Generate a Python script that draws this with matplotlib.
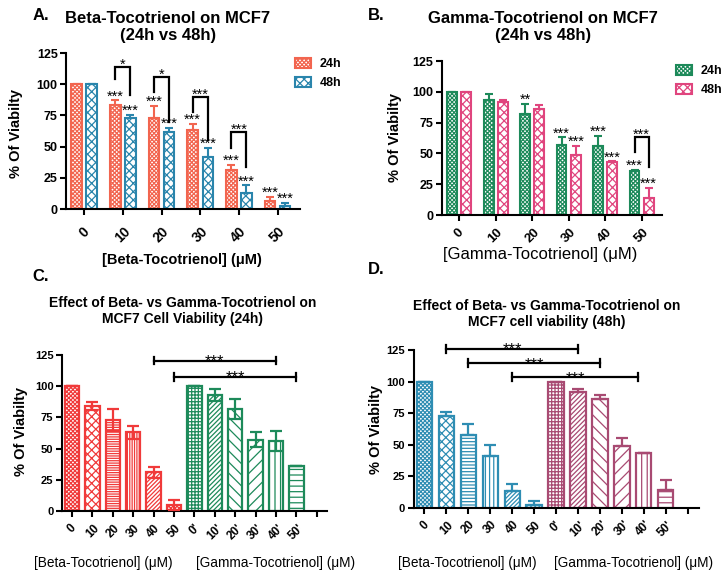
import matplotlib
matplotlib.use("Agg")
import matplotlib.pyplot as plt
from matplotlib import font_manager as fm
from matplotlib.patches import Patch
import numpy as np

# ---------------- data ----------------
doses = ["0", "10", "20", "30", "40", "50"]
doses_prime = ["0'", "10'", "20'", "30'", "40'", "50'"]
series_names = ["24h", "48h"]

# Panel A: Beta-Tocotrienol, 24h vs 48h
a_24 = [100, 83, 73, 63, 31, 6.5]
a_24_err = [0, 4, 9.5, 5, 4.5, 3]
a_48 = [100, 73, 61.5, 42, 13, 2.5]
a_48_err = [0, 2.5, 3.5, 7, 6, 2.5]
a_sig_24 = ["", "***", "***", "***", "***", "***"]
a_sig_48 = ["", "***", "***", "***", "***", "***"]
# (group, bracket top, left end, right end, label)
a_brackets = [(1, 114, 104, 91, "*"), (2, 106, 94, 70, "*"),
              (3, 90, 78, 55, "***"), (4, 62, 49, 34, "***")]

# Panel B: Gamma-Tocotrienol, 24h vs 48h
b_24 = [100, 93, 82, 57, 56, 36]
b_24_err = [0, 5, 8, 6, 8, 0.5]
b_48 = [100, 92, 86, 49, 43, 14]
b_48_err = [0, 1.5, 3, 7, 0.5, 8]
b_sig_24 = ["", "", "**", "***", "***", "***"]
b_sig_48 = ["", "", "", "***", "***", "***"]
b_brackets = [(5, 63, 51, 39, "***")]

# Panel C: Beta vs Gamma, 24h
c_beta = [100, 84, 73, 63, 31, 5]
c_beta_err = [0, 3, 9, 5, 4.5, 4]
c_gamma = [100, 93, 82, 57, 56, 36]
c_gamma_err = [0, 5, 8, 6, 8, 0]
# (from position, to position, level, label)
c_lines = [(4, 10, 120.5, "***"), (5, 11, 107.5, "***")]

# Panel D: Beta vs Gamma, 48h
d_beta = [100, 73, 58, 41, 13, 2.5]
d_beta_err = [0, 3, 8.5, 9, 6, 2.5]
d_gamma = [100, 92, 86, 49, 43, 14]
d_gamma_err = [0, 2, 3, 6.5, 0.5, 8]
d_lines = [(1, 7, 126, "***"), (2, 8, 114.5, "***"), (4, 9.75, 103.5, "***")]

# ---------------- styling ----------------
names = {f.name for f in fm.fontManager.ttflist}
HAS_NARROW = "Liberation Sans Narrow" in names
NARROW = "Liberation Sans Narrow" if HAS_NARROW else "Liberation Sans"
plt.rcParams["font.family"] = ["Liberation Sans", "DejaVu Sans"]
plt.rcParams["hatch.linewidth"] = 0.9

RED_A = "#F2654F"
BLUE_A = "#2A85AC"
GREEN = "#1D8A5A"
PINK_B = "#E0457E"
RED_C = "#F03A3A"
BLUE_D = "#2E8DB3"
MAUVE_D = "#A84A72"

FINE = "xxxxxxxx"
CHECK = "xxxx"

W, H = 724, 577
fig = plt.figure(figsize=(W / 100, H / 100), dpi=100)
fig.patch.set_facecolor("white")


def px_axes(l, t, r, b):
    return fig.add_axes([l / W, 1 - b / H, (r - l) / W, (b - t) / H])


def ftext(x, y, s, **kw):
    kw.setdefault("ha", "center")
    kw.setdefault("va", "center")
    fig.text(x / W, 1 - y / H, s, **kw)


def style(ax, xlim, ticks, labels, tfs_x, tfs_y, family, xpad):
    ax.set_xlim(*xlim)
    ax.set_ylim(0, 125)
    for s in ["top", "right"]:
        ax.spines[s].set_visible(False)
    for s in ["left", "bottom"]:
        ax.spines[s].set_linewidth(1.5)
    ax.set_yticks([0, 25, 50, 75, 100, 125])
    ax.set_yticklabels([str(v) for v in [0, 25, 50, 75, 100, 125]],
                       fontsize=tfs_y, fontweight="bold", family=family)
    ax.set_xticks(ticks)
    ax.set_xticklabels(labels, rotation=45, ha="center", va="top",
                       fontsize=tfs_x, fontweight="bold", family=family)
    ax.tick_params(length=4, width=1.5, direction="out", pad=2)
    ax.tick_params(axis="x", pad=xpad)
    ax.patch.set_visible(False)


def grouped(ax, v1, e1, v2, e2, c1, c2, h1, h2, width=0.27, off=0.195):
    x = np.arange(len(v1))
    ax.bar(x - off, v1, width, facecolor="white", edgecolor=c1, hatch=h1, linewidth=1.5, zorder=2)
    ax.bar(x + off, v2, width, facecolor="white", edgecolor=c2, hatch=h2, linewidth=1.5, zorder=2)
    ax.errorbar(x - off, v1, yerr=[np.zeros(len(v1)), e1], fmt="none", ecolor=c1,
                elinewidth=1.5, capsize=2.7, capthick=1.5, zorder=3)
    ax.errorbar(x + off, v2, yerr=[np.zeros(len(v2)), e2], fmt="none", ecolor=c2,
                elinewidth=1.5, capsize=2.7, capthick=1.5, zorder=3)
    return x


def stars(ax, xs, vals, errs, labels, fs=10.5):
    for xx, v, e, s in zip(xs, vals, errs, labels):
        if s:
            ax.text(xx, v + e, s, ha="center", va="baseline", fontsize=fs, clip_on=False)


def brackets(ax, specs, off=0.195, fs=10.5):
    for g, top, yl, yr, s in specs:
        ax.plot([g - off, g - off, g + off, g + off], [yl, top, top, yr], color="black",
                lw=1.6, clip_on=False, solid_joinstyle="miter")
        ax.text(g, top - 1.5, s, ha="center", va="baseline", fontsize=fs, clip_on=False)


def hlines(ax, specs, fs=12):
    for x1, x2, y, s in specs:
        ax.plot([x1, x2], [y, y], color="black", lw=1.6, clip_on=False)
        ax.plot([x1, x1], [y - 3, y + 3], color="black", lw=1.6, clip_on=False)
        ax.plot([x2, x2], [y - 3, y + 3], color="black", lw=1.6, clip_on=False)
        ax.text((x1 + x2) / 2, y - 4.5, s, ha="center", va="baseline", fontsize=fs, clip_on=False)


def legend(ax, c1, c2, x, y):
    ax.legend([Patch(facecolor="white", edgecolor=c1, hatch=FINE, lw=1.5),
               Patch(facecolor="white", edgecolor=c2, hatch=CHECK, lw=1.5)],
              series_names, loc="upper left", bbox_to_anchor=(x / W, 1 - y / H),
              bbox_transform=fig.transFigure, frameon=False,
              prop={"size": 9, "weight": "bold"}, handlelength=1.3, handleheight=0.8,
              labelspacing=0.55, borderpad=0, borderaxespad=0, handletextpad=0.7)


# ---------------- Panel A ----------------
axA = px_axes(66, 53, 300, 209)
xA = grouped(axA, a_24, a_24_err, a_48, a_48_err, RED_A, BLUE_A, FINE, CHECK)
style(axA, (-0.47, 5.58), xA, doses, 10, 9, "Liberation Sans", 7)
stars(axA, xA - 0.195, a_24, a_24_err, a_sig_24)
stars(axA, xA + 0.195, a_48, a_48_err, a_sig_48)
brackets(axA, a_brackets)
legend(axA, RED_A, BLUE_A, 295, 58)
ftext(41, 15, "A.", fontsize=12, fontweight="bold")
ftext(168, 27, "Beta-Tocotrienol on MCF7\n(24h vs 48h)", fontsize=12, fontweight="bold",
      linespacing=1.1)
ftext(16, 133, "% Of Viabilty", fontsize=10.5, fontweight="bold", rotation=90)
ftext(182, 260, "[Beta-Tocotrienol] (\u03bcM)", fontsize=10.5, fontweight="bold")

# ---------------- Panel B ----------------
axB = px_axes(441.7, 61, 661.7, 215)
xB = grouped(axB, b_24, b_24_err, b_48, b_48_err, GREEN, PINK_B, FINE, CHECK)
style(axB, (-0.48, 5.55), xB, doses, 9.5, 9, "Liberation Sans", 4)
stars(axB, xB - 0.195, b_24, b_24_err, b_sig_24)
stars(axB, xB + 0.195, b_48, b_48_err, b_sig_48)
brackets(axB, b_brackets)
legend(axB, GREEN, PINK_B, 676, 65)
ftext(376, 15, "B.", fontsize=12, fontweight="bold")
ftext(543, 27, "Gamma-Tocotrienol on MCF7\n(24h vs 48h)", fontsize=12, fontweight="bold",
      linespacing=1.1)
ftext(395, 138, "% Of Viabilty", fontsize=10.5, fontweight="bold", rotation=90)
ftext(540, 255, "[Gamma-Tocotrienol] (\u03bcM)", fontsize=12)

# ---------------- Panel C / D helpers ----------------
beta_hatches_c = [FINE, CHECK, "-------", "|||||||", "////////", FINE]
gamma_hatches_c = ["+++++", "///////", "\\\\\\", "///", "|||", "---"]
beta_hatches_d = [FINE, CHECK, "-----", "||||", "////////", "////////"]
gamma_hatches_d = ["+++++", "///////", "\\\\\\", "///", "|||", "---"]


def combo(ax, v1, e1, v2, e2, c1, c2, hs1, hs2, both):
    x1 = np.arange(len(v1))
    x2 = np.arange(len(v2)) + len(v1)
    for xx, v, h in zip(x1, v1, hs1):
        ax.bar(xx, v, 0.7, facecolor="white", edgecolor=c1, hatch=h, linewidth=1.6, zorder=2)
    for xx, v, h in zip(x2, v2, hs2):
        ax.bar(xx, v, 0.7, facecolor="white", edgecolor=c2, hatch=h, linewidth=1.6, zorder=2)
    lo1 = e1 if both else np.zeros(len(e1))
    lo2 = e2 if both else np.zeros(len(e2))
    ax.errorbar(x1, v1, yerr=[lo1, e1], fmt="none", ecolor=c1, elinewidth=1.6,
                capsize=4, capthick=1.6, zorder=3)
    ax.errorbar(x2, v2, yerr=[lo2, e2], fmt="none", ecolor=c2, elinewidth=1.6,
                capsize=4, capthick=1.6, zorder=3)


cd_labels = doses + doses_prime + [""]
narrow_title_fs = 12 if HAS_NARROW else 10
cd_xtick_fs = 9.5 if HAS_NARROW else 8.5
cd_ytick_fs = 9 if HAS_NARROW else 8

# ---------------- Panel C ----------------
axC = px_axes(61.8, 355, 327, 511)
combo(axC, c_beta, c_beta_err, c_gamma, c_gamma_err, RED_C, GREEN,
      beta_hatches_c, gamma_hatches_c, True)
style(axC, (-0.5, 12.5), np.arange(13), cd_labels, cd_xtick_fs, cd_ytick_fs, NARROW, 4)
hlines(axC, c_lines)
ftext(41, 277, "C.", fontsize=12, fontweight="bold")
ftext(183, 311, "Effect of Beta- vs Gamma-Tocotrienol on\nMCF7 Cell Viability (24h)",
      fontsize=narrow_title_fs, fontweight="bold", family=NARROW, linespacing=1.2)
ftext(21, 431, "% Of Viabilty", fontsize=10.5, fontweight="bold", rotation=90)
ftext(103, 563, "[Beta-Tocotrienol] (\u03bcM)", fontsize=9.8)
ftext(276, 563, "[Gamma-Tocotrienol] (\u03bcM)", fontsize=9.8)

# ---------------- Panel D ----------------
axD = px_axes(413.5, 350, 698.6, 507.7)
combo(axD, d_beta, d_beta_err, d_gamma, d_gamma_err, BLUE_D, MAUVE_D,
      beta_hatches_d, gamma_hatches_d, False)
style(axD, (-0.5, 12.5), np.arange(13), cd_labels, cd_xtick_fs, cd_ytick_fs, NARROW, 4)
hlines(axD, d_lines)
ftext(376, 270, "D.", fontsize=12, fontweight="bold")
ftext(547, 314, "Effect of Beta- vs Gamma-Tocotrienol on\nMCF7 cell viability (48h)",
      fontsize=narrow_title_fs, fontweight="bold", family=NARROW, linespacing=1.2)
ftext(376, 430, "% Of Viabilty", fontsize=10.5, fontweight="bold", rotation=90)
ftext(467, 563, "[Beta-Tocotrienol] (\u03bcM)", fontsize=9.8)
ftext(634, 563, "[Gamma-Tocotrienol] (\u03bcM)", fontsize=9.8)

fig.savefig("out.png", dpi=100, facecolor="white")
